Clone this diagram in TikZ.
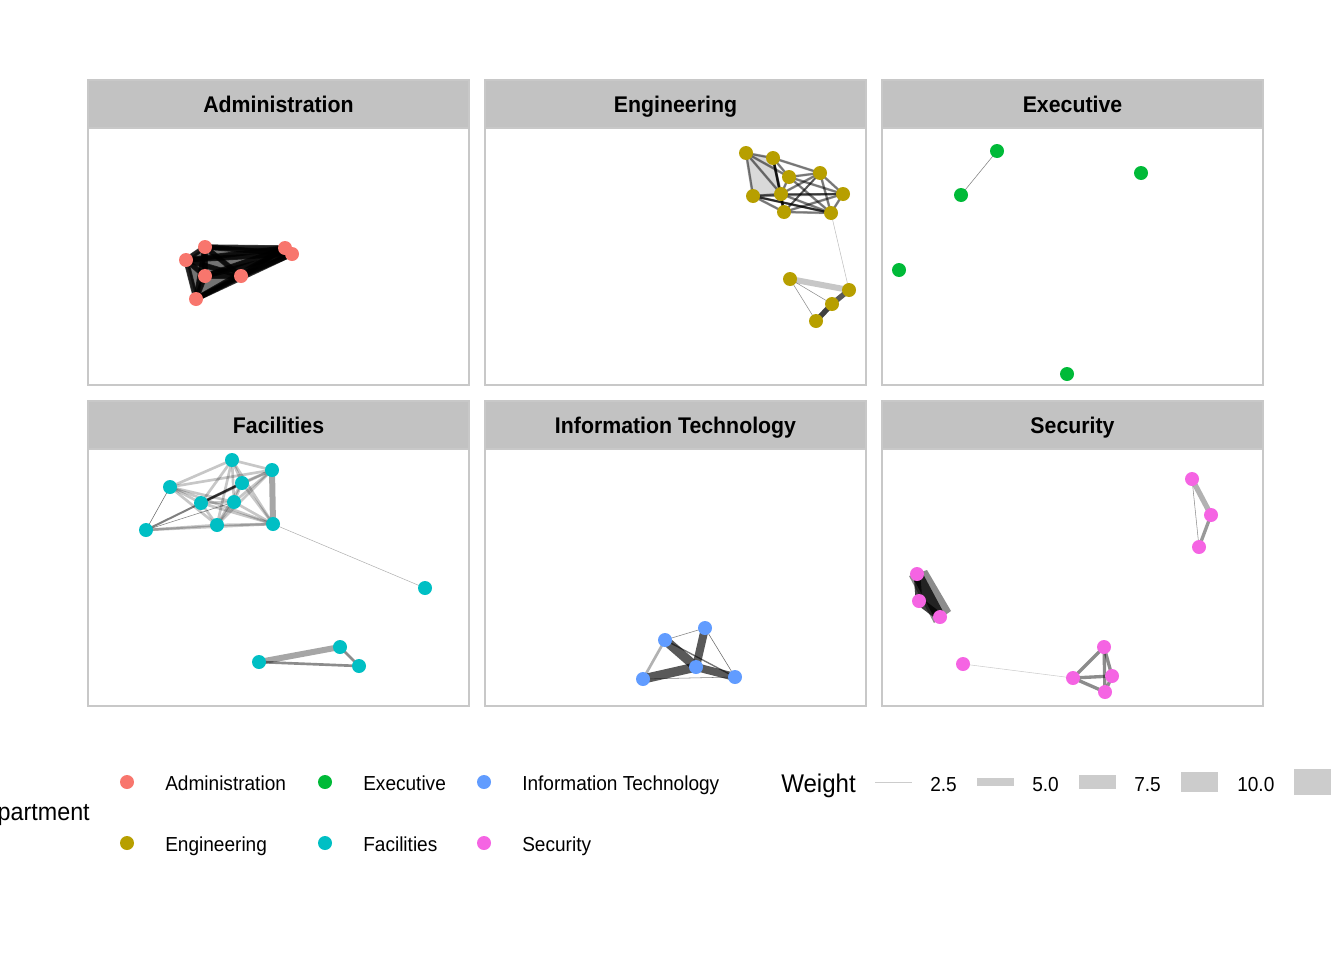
\documentclass[tikz,border=0pt]{standalone}
\usepackage{fontspec}
\setmainfont[FakeStretch=0.94]{Liberation Sans}
\usetikzlibrary{backgrounds,calc}
\definecolor{adm}{HTML}{F8766D}
\definecolor{eng}{HTML}{B79F00}
\definecolor{exe}{HTML}{00BA38}
\definecolor{fac}{HTML}{00BFC4}
\definecolor{itc}{HTML}{619CFF}
\definecolor{sec}{HTML}{F564E3}
\definecolor{stripc}{HTML}{C2C2C2}
\definecolor{borderc}{HTML}{C8C8C8}
\definecolor{keyc}{HTML}{CCCCCC}
\tikzset{
  dot/.style={circle, inner sep=0pt, minimum size=10.5pt},
  panelbox/.style={draw=borderc, line width=0.8pt},
  stripbox/.style={fill=stripc, draw=borderc, line width=0.8pt},
  striptext/.style={font=\bfseries\fontsize{17}{19}\selectfont, anchor=base, inner sep=0pt},
  legtext/.style={font=\fontsize{15.2}{17}\selectfont, anchor=base west, inner sep=0pt},
  ethin/.style={draw=black, opacity=0.25, line width=0.4pt},
  elight/.style={draw=black, opacity=0.22, line width=2pt},
  emid/.style={draw=black, opacity=0.4, line width=1.5pt},
  edark/.style={draw=black, opacity=0.65, line width=3pt},
  eblack/.style={draw=black, opacity=0.75, line width=4pt},
  egray/.style={draw=black, opacity=0.3, line width=3.5pt},
}
\begin{document}
\begin{tikzpicture}[x=0.75pt, y=-0.75pt]
\useasboundingbox (0,0) rectangle (1344,960);
\clip (0,0) rectangle (1344,960);
% panels
\foreach \x/\y/\t [count=\i] in {88/80/Administration, 485/80/Engineering, 882/80/Executive, 88/401/Facilities, 485/401/Information Technology, 882/401/Security}{
  \draw[panelbox] (\x,\y+48) rectangle (\x+381,\y+305);
  \draw[stripbox] (\x,\y) rectangle (\x+381,\y+48);
  \node[striptext] (strip\i) at (\x+190.5,\y+32.5) {\t};
}
% ---------------- Administration
\node[dot, fill=adm] (a1) at (205,247) {};
\node[dot, fill=adm] (a2) at (186,260) {};
\node[dot, fill=adm] (a3) at (285,248) {};
\node[dot, fill=adm] (a4) at (292,254) {};
\node[dot, fill=adm] (a5) at (205,276) {};
\node[dot, fill=adm] (a6) at (241,276) {};
\node[dot, fill=adm] (a7) at (196,299) {};
% ---------------- Engineering
\node[dot, fill=eng] (g1) at (746,153) {};
\node[dot, fill=eng] (g2) at (773,158) {};
\node[dot, fill=eng] (g3) at (789,177) {};
\node[dot, fill=eng] (g4) at (820,173) {};
\node[dot, fill=eng] (g5) at (753,196) {};
\node[dot, fill=eng] (g6) at (781,194) {};
\node[dot, fill=eng] (g7) at (843,194) {};
\node[dot, fill=eng] (g8) at (784,212) {};
\node[dot, fill=eng] (g9) at (831,213) {};
\node[dot, fill=eng] (g10) at (790,279) {};
\node[dot, fill=eng] (g11) at (849,290) {};
\node[dot, fill=eng] (g12) at (832,304) {};
\node[dot, fill=eng] (g13) at (816,321) {};
% ---------------- Executive
\node[dot, fill=exe] (x1) at (997,151) {};
\node[dot, fill=exe] (x2) at (961,195) {};
\node[dot, fill=exe] (x3) at (1141,173) {};
\node[dot, fill=exe] (x4) at (899,270) {};
\node[dot, fill=exe] (x5) at (1067,374) {};
% ---------------- Facilities
\node[dot, fill=fac] (f1) at (232,460) {};
\node[dot, fill=fac] (f2) at (272,470) {};
\node[dot, fill=fac] (f3) at (170,487) {};
\node[dot, fill=fac] (f4) at (242,483) {};
\node[dot, fill=fac] (f5) at (201,503) {};
\node[dot, fill=fac] (f6) at (234,502) {};
\node[dot, fill=fac] (f7) at (146,530) {};
\node[dot, fill=fac] (f8) at (217,525) {};
\node[dot, fill=fac] (f9) at (273,524) {};
\node[dot, fill=fac] (f10) at (425,588) {};
\node[dot, fill=fac] (f11) at (259,662) {};
\node[dot, fill=fac] (f12) at (340,647) {};
\node[dot, fill=fac] (f13) at (359,666) {};
% ---------------- IT
\node[dot, fill=itc] (t1) at (665,640) {};
\node[dot, fill=itc] (t2) at (705,628) {};
\node[dot, fill=itc] (t3) at (696,667) {};
\node[dot, fill=itc] (t4) at (643,679) {};
\node[dot, fill=itc] (t5) at (735,677) {};
% ---------------- Security
\node[dot, fill=sec] (s1) at (1192,479) {};
\node[dot, fill=sec] (s2) at (1211,515) {};
\node[dot, fill=sec] (s3) at (1199,547) {};
\node[dot, fill=sec] (s4) at (917,574) {};
\node[dot, fill=sec] (s5) at (919,601) {};
\node[dot, fill=sec] (s6) at (940,617) {};
\node[dot, fill=sec] (s7) at (963,664) {};
\node[dot, fill=sec] (s8) at (1104,647) {};
\node[dot, fill=sec] (s9) at (1112,676) {};
\node[dot, fill=sec] (s10) at (1073,678) {};
\node[dot, fill=sec] (s11) at (1105,692) {};

\begin{pgfonlayer}{background}
% Administration edges: dense dark bundle
\foreach \p/\q in {a1/a2,a1/a3,a1/a4,a1/a5,a1/a6,a1/a7,a2/a3,a2/a4,a2/a5,a2/a6,a2/a7,a3/a4,a3/a5,a3/a6,a3/a7,a4/a5,a4/a6,a4/a7,a5/a6,a5/a7,a6/a7}{
  \draw[eblack] (\p.center) -- (\q.center);
  \draw[edark, opacity=0.5] (\p.center) -- (\q.center);
}
\fill[black, opacity=0.55] (a1.center) -- (a3.center) -- (a4.center) -- (a7.center) -- (a2.center) -- cycle;
% Engineering edges
\foreach \p/\q in {g1/g2,g1/g5,g1/g6,g2/g3,g2/g6,g2/g8,g3/g4,g3/g6,g3/g7,g3/g9,g4/g6,g4/g7,g4/g9,g5/g6,g5/g8,g5/g9,g6/g8,g6/g9,g7/g9,g8/g9,g5/g7,g2/g4,g1/g3,g6/g7,g8/g7}{
  \draw[emid] (\p.center) -- (\q.center);
  \draw[elight] (\p.center) -- (\q.center);
}
\fill[black, opacity=0.15] (g1.center) -- (g2.center) -- (g6.center) -- (g5.center) -- cycle;
\draw[edark, line width=1.8pt] (g2.center) -- (g8.center);
\draw[edark, line width=1.5pt] (g5.center) -- (g9.center);
\draw[edark, line width=1.5pt] (g8.center) -- (g4.center);
\draw[ethin] (g9.center) -- (g11.center);
\draw[elight, line width=4.5pt] (g10.center) -- (g11.center);
\draw[ethin, opacity=0.45] (g10.center) -- (g12.center);
\draw[ethin, opacity=0.45] (g10.center) -- (g13.center);
\draw[edark, line width=4pt] (g11.center) -- (g12.center);
\draw[eblack, line width=4pt] (g12.center) -- (g13.center);
% Executive edges
\draw[ethin, opacity=0.5] (x1.center) -- (x2.center);
% Facilities edges
\foreach \p/\q in {f1/f2,f1/f3,f1/f4,f1/f5,f1/f6,f1/f8,f1/f9,f2/f3,f2/f4,f2/f6,f2/f5,f3/f5,f3/f6,f3/f8,f3/f9,f4/f6,f4/f8,f4/f9,f5/f6,f5/f8,f5/f9,f6/f8,f6/f9,f7/f8,f7/f9,f8/f9,f2/f8}{
  \draw[elight] (\p.center) -- (\q.center);
}
\draw[ethin, opacity=0.6] (f3.center) -- (f7.center);
\draw[ethin, opacity=0.5] (f7.center) -- (f6.center);
\draw[emid, opacity=0.5] (f7.center) -- (f4.center);
\draw[emid, opacity=0.55, line width=2pt] (f5.center) -- (f4.center);
\draw[egray, line width=4.5pt, opacity=0.35] (f2.center) -- (f9.center);
\draw[ethin, opacity=0.3] (f9.center) -- (f10.center);
\draw[egray, line width=4.5pt, opacity=0.35] (f11.center) -- (f12.center);
\draw[emid, opacity=0.45, line width=2pt] (f11.center) -- (f13.center);
\draw[emid, opacity=0.45, line width=2pt] (f12.center) -- (f13.center);
% IT edges
\draw[edark, line width=7pt] (t1.center) -- (t3.center);
\draw[edark, line width=6pt] (t2.center) -- (t3.center);
\draw[edark, line width=7pt] (t4.center) -- (t3.center);
\draw[edark, line width=6pt] (t3.center) -- (t5.center);
\draw[ethin, opacity=0.5] (t1.center) -- (t2.center);
\draw[ethin, opacity=0.6] (t2.center) -- (t5.center);
\draw[ethin, opacity=0.5] (t4.center) -- (t5.center);
\draw[emid, opacity=0.55, line width=1pt] (t1.center) -- (t5.center);
\draw[elight, opacity=0.3, line width=2pt] (t1.center) -- (t4.center);
% Security edges
\draw[egray, line width=4pt] (s1.center) -- (s2.center);
\draw[ethin, opacity=0.45] (s1.center) -- (s3.center);
\draw[emid, opacity=0.4, line width=2.5pt] (s2.center) -- (s3.center);
\fill[black, opacity=0.45] ($(s4.center)+(10,-4)$) -- ($(s6.center)+(11,-6)$) -- ($(s6.center)+(-6,6)$) -- ($(s4.center)+(-8,2)$) -- cycle;
\draw[eblack, line width=8pt] (s4.center) -- (s6.center);
\draw[eblack, line width=6pt] (s5.center) -- (s6.center);
\draw[eblack, line width=5pt] (s4.center) -- (s5.center);
\draw[ethin, opacity=0.2] (s7.center) -- (s10.center);
\foreach \p/\q in {s8/s9,s8/s10,s8/s11,s9/s10,s9/s11,s10/s11}{
  \draw[emid, opacity=0.45, line width=2.5pt] (\p.center) -- (\q.center);
}
\end{pgfonlayer}

% ---------------- Legend
\node[font=\fontsize{18.6}{21}\selectfont, anchor=base east, inner sep=0pt] (dept) at (90,820) {Department};
\foreach \x/\y/\c/\t [count=\i] in {127/782/adm/Administration, 325/782/exe/Executive, 484/782/itc/Information Technology, 127/843/eng/Engineering, 325/843/fac/Facilities, 484/843/sec/Security}{
  \node[dot, fill=\c] (ld\i) at (\x,\y) {};
  \node[legtext] (lt\i) at (\x+38,\y+8.5) {\t};
}
\node[font=\fontsize{19.2}{21}\selectfont, anchor=base west, inner sep=0pt] (wt) at (781,792) {Weight};
\coordinate (k1a) at (875,782); \coordinate (k1b) at (912,782);
\draw[draw=keyc, line width=0.6pt] (k1a) -- (k1b);
\node[legtext] (kl1) at (930,791) {2.5};
\node[fill=keyc, inner sep=0pt, minimum width=27.75pt, minimum height=5.5pt] (k2) at (995.5,782) {};
\node[legtext] (kl2) at (1032,791) {5.0};
\node[fill=keyc, inner sep=0pt, minimum width=27.75pt, minimum height=10.5pt] (k3) at (1097.5,782) {};
\node[legtext] (kl3) at (1134,791) {7.5};
\node[fill=keyc, inner sep=0pt, minimum width=27.75pt, minimum height=15pt] (k4) at (1199.5,782) {};
\node[legtext] (kl4) at (1237,791) {10.0};
\node[fill=keyc, inner sep=0pt, minimum width=27.75pt, minimum height=20pt] (k5) at (1312,782) {};
\end{tikzpicture}
\end{document}
